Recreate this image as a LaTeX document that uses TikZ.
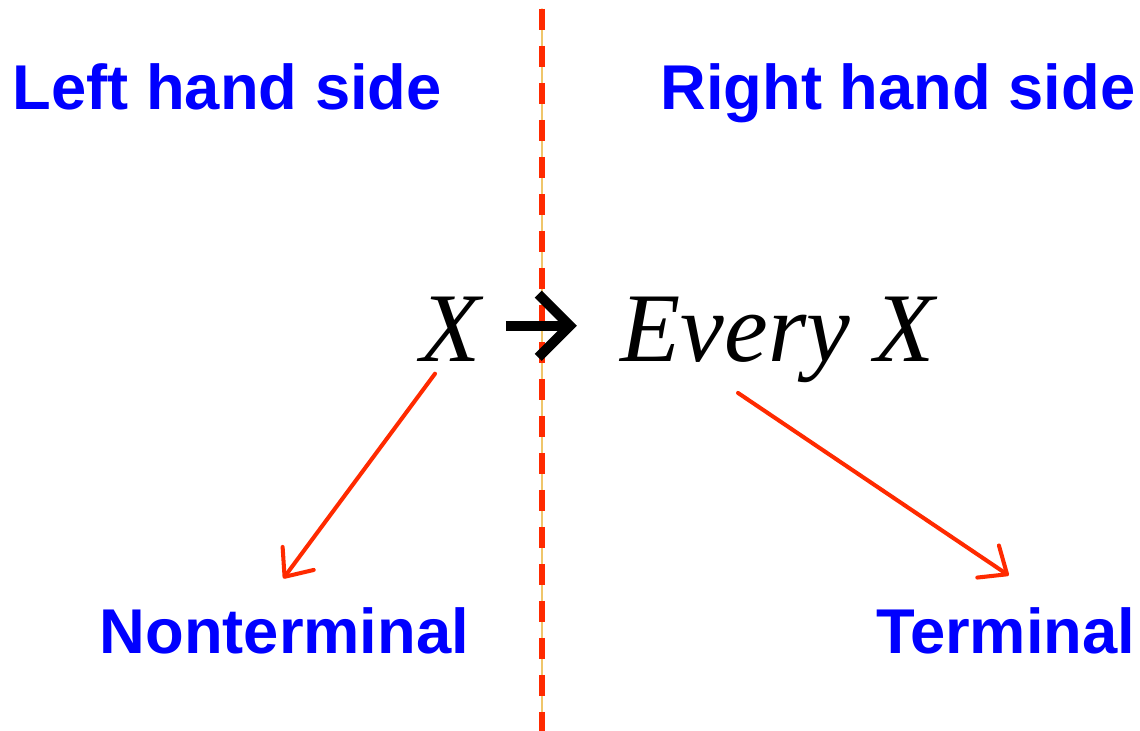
\documentclass[tikz,border=0pt]{standalone}
\usepackage{fontspec}
\setmainfont{Liberation Serif}
\setsansfont{Liberation Sans}
\usetikzlibrary{calc,arrows.meta}
\definecolor{RuleBlue}{HTML}{0000FF}
\definecolor{RuleRed}{HTML}{FF2A00}
\definecolor{RuleGold}{HTML}{EFC66A}

\begin{document}
\begin{tikzpicture}[x=0.01cm,y=-0.01cm,line cap=round,line join=round,
  side/.style={font=\fontsize{18}{22}\selectfont\sffamily\bfseries,text=RuleBlue,inner sep=0pt},
  sym/.style={font=\fontsize{28}{33}\selectfont\itshape,inner sep=0pt},
  pointer/.style={RuleRed,line width=1.15pt,-{Straight Barb[round,length=6.5pt,width=11pt]}}]
  \useasboundingbox (0,0) rectangle (1140,731);
  % dividing line between the two sides
  \coordinate (divtop) at (542,9); \coordinate (divbot) at (542,731);
  \draw[RuleGold,line width=.45pt] (divtop)--(divbot);
  \draw[RuleRed,line width=1.5pt,line cap=butt,dash pattern=on 5.97pt off 4.55pt] (divtop)--(divbot);
  \node[side,anchor=base west] (lhslabel) at (12,110) {Left hand side};
  \node[side,anchor=base east] (rhslabel) at (1136,110) {Right hand side};
  % the rule
  \node[sym,anchor=base] (lhs) at (451,362) {X};
  \node[sym,anchor=base west] (rhs) at (620,362) {Every X};
  \coordinate (tail) at ($(lhs.east)+(24,-4)$);
  \draw[line width=2.85pt,line cap=butt,shorten >=0.43cm,-{Straight Barb[sharp,length=9pt,width=18pt]}] (tail) -- (tail -| rhs.west);
  \node[side,anchor=base west] (nonterm) at (99,653) {Nonterminal};
  \node[side,anchor=base east] (term) at (1136,653) {Terminal};
  \draw[pointer] ($(lhs.south)+(-16,11)$) -- ($(nonterm.north)+(-1,-28)$);
  \draw[pointer] ($(rhs.south west)+(118,9)$) -- ($(term.north)+(3,-31)$);
\end{tikzpicture}
\end{document}
